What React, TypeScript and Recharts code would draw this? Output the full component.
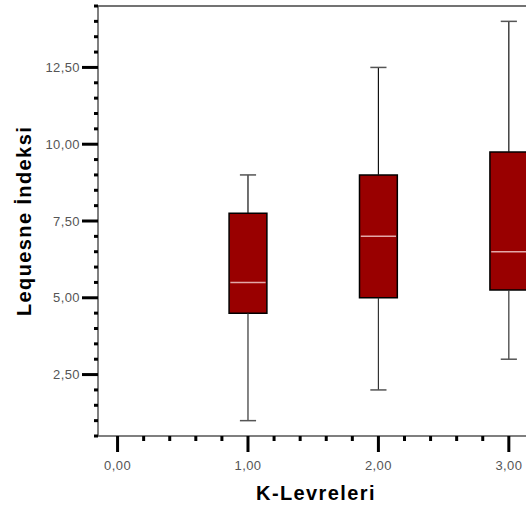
import { ComposedChart, ReferenceArea, ReferenceLine, Scatter, XAxis, YAxis } from "recharts";

// box plot values per K-Levreleri group
const groups = [1, 2, 3];
const whiskerLow = [1.0, 2.0, 3.0];
const q1 = [4.5, 5.0, 5.25];
const median = [5.5, 7.0, 6.5];
const q3 = [7.75, 9.0, 9.75];
const whiskerHigh = [9.0, 12.5, 14.0];

const xMajor = [0, 1, 2, 3];
const xMajorLabels = ["0,00", "1,00", "2,00", "3,00"];
const yMajor = [2.5, 5, 7.5, 10, 12.5];
const yMajorLabels = ["2,50", "5,00", "7,50", "10,00", "12,50"];

const xTicks = Array.from({ length: 18 }, (_, i) => Math.round(i * 0.2 * 10) / 10);
const yTicks = Array.from({ length: 29 }, (_, i) => 0.5 + i * 0.5);

const boxes = groups.map((g, i) => ({
  x: g,
  low: whiskerLow[i],
  q1: q1[i],
  median: median[i],
  q3: q3[i],
  high: whiskerHigh[i]
}));

const FONT = "Arial, 'Liberation Sans', sans-serif";
const BOX_HALF = 0.145;
const CAP_HALF = 0.062;

const near = (a: number, b: number) => Math.abs(a - b) < 1e-6;

function YTick({ x, y, payload }: any) {
  const idx = yMajor.findIndex((v) => near(v, payload.value));
  const major = idx >= 0;
  return (
    <g>
      <line x1={x + (major ? 2 : 14)} x2={x + 18} y1={y} y2={y} stroke="#000" strokeWidth={3} />
      {major && (
        <text x={x} y={y} dy="0.35em" textAnchor="end" fill="#555" fontSize={13} fontFamily={FONT} letterSpacing={0.4}>
          {yMajorLabels[idx]}
        </text>
      )}
    </g>
  );
}

function XTick({ x, y, payload }: any) {
  const idx = xMajor.findIndex((v) => near(v, payload.value));
  const major = idx >= 0;
  const axisY = y - 18;
  return (
    <g>
      <line x1={x} x2={x} y1={axisY} y2={axisY + (major ? 16 : 5)} stroke="#000" strokeWidth={3} />
      {major && (
        <text x={x} y={axisY + 34} textAnchor="middle" fill="#555" fontSize={13} fontFamily={FONT} letterSpacing={0.4}>
          {xMajorLabels[idx]}
        </text>
      )}
    </g>
  );
}

export default function App() {
  return (
    <div style={{ position: "absolute", left: 0, top: 0, width: 526, height: 511, overflow: "hidden", background: "#fff" }}>
      <ComposedChart width={600} height={511} data={boxes} margin={{ top: 6, right: 39, bottom: 0, left: 0 }}>
        <XAxis
          dataKey="x"
          type="number"
          domain={[-0.15, 3.4]}
          ticks={xTicks}
          interval={0}
          tick={<XTick />}
          tickLine={false}
          tickSize={16}
          height={75}
          axisLine={{ stroke: "#555", strokeWidth: 1.5 }}
        />
        <YAxis
          dataKey="median"
          type="number"
          domain={[0.5, 14.5]}
          ticks={yTicks}
          interval={0}
          tick={<YTick />}
          tickLine={false}
          tickSize={16}
          width={98}
          axisLine={{ stroke: "#555", strokeWidth: 1.5 }}
        />
        <ReferenceLine y={14.5} stroke="#444" strokeWidth={1.5} ifOverflow="visible" />
        {boxes.map((b) => (
          <ReferenceArea
            key={`box-${b.x}`}
            x1={b.x - BOX_HALF}
            x2={b.x + BOX_HALF}
            y1={b.q1}
            y2={b.q3}
            fill="#990000"
            fillOpacity={1}
            stroke="#000"
            strokeWidth={1.5}
          />
        ))}
        {boxes.map((b) => (
          <ReferenceLine
            key={`med-${b.x}`}
            segment={[{ x: b.x - BOX_HALF + 0.01, y: b.median }, { x: b.x + BOX_HALF - 0.01, y: b.median }]}
            stroke="#e3a8a8"
            strokeWidth={1.5}
          />
        ))}
        {boxes.map((b) => (
          <ReferenceLine key={`wh-${b.x}`} segment={[{ x: b.x, y: b.q3 }, { x: b.x, y: b.high }]} stroke="#111" strokeWidth={1.2} />
        ))}
        {boxes.map((b) => (
          <ReferenceLine key={`wl-${b.x}`} segment={[{ x: b.x, y: b.low }, { x: b.x, y: b.q1 }]} stroke="#333" strokeWidth={1.2} />
        ))}
        {boxes.map((b) => (
          <ReferenceLine
            key={`ch-${b.x}`}
            segment={[{ x: b.x - CAP_HALF, y: b.high }, { x: b.x + CAP_HALF, y: b.high }]}
            stroke="#555"
            strokeWidth={1.5}
          />
        ))}
        {boxes.map((b) => (
          <ReferenceLine
            key={`cl-${b.x}`}
            segment={[{ x: b.x - CAP_HALF, y: b.low }, { x: b.x + CAP_HALF, y: b.low }]}
            stroke="#555"
            strokeWidth={1.5}
          />
        ))}
        <Scatter dataKey="median" isAnimationActive={false} shape={() => <g />} />
      </ComposedChart>
      <svg width={526} height={511} style={{ position: "absolute", left: 0, top: 0, pointerEvents: "none" }}>
        <text
          transform="translate(31,221) rotate(-90)"
          textAnchor="middle"
          fontFamily={FONT}
          fontWeight="bold"
          fontSize={20}
          letterSpacing={1.4}
          fill="#000"
        >
          Lequesne İndeksi
        </text>
        <text x={316} y={500} textAnchor="middle" fontFamily={FONT} fontWeight="bold" fontSize={20} letterSpacing={1.4} fill="#000">
          K-Levreleri
        </text>
      </svg>
    </div>
  );
}
